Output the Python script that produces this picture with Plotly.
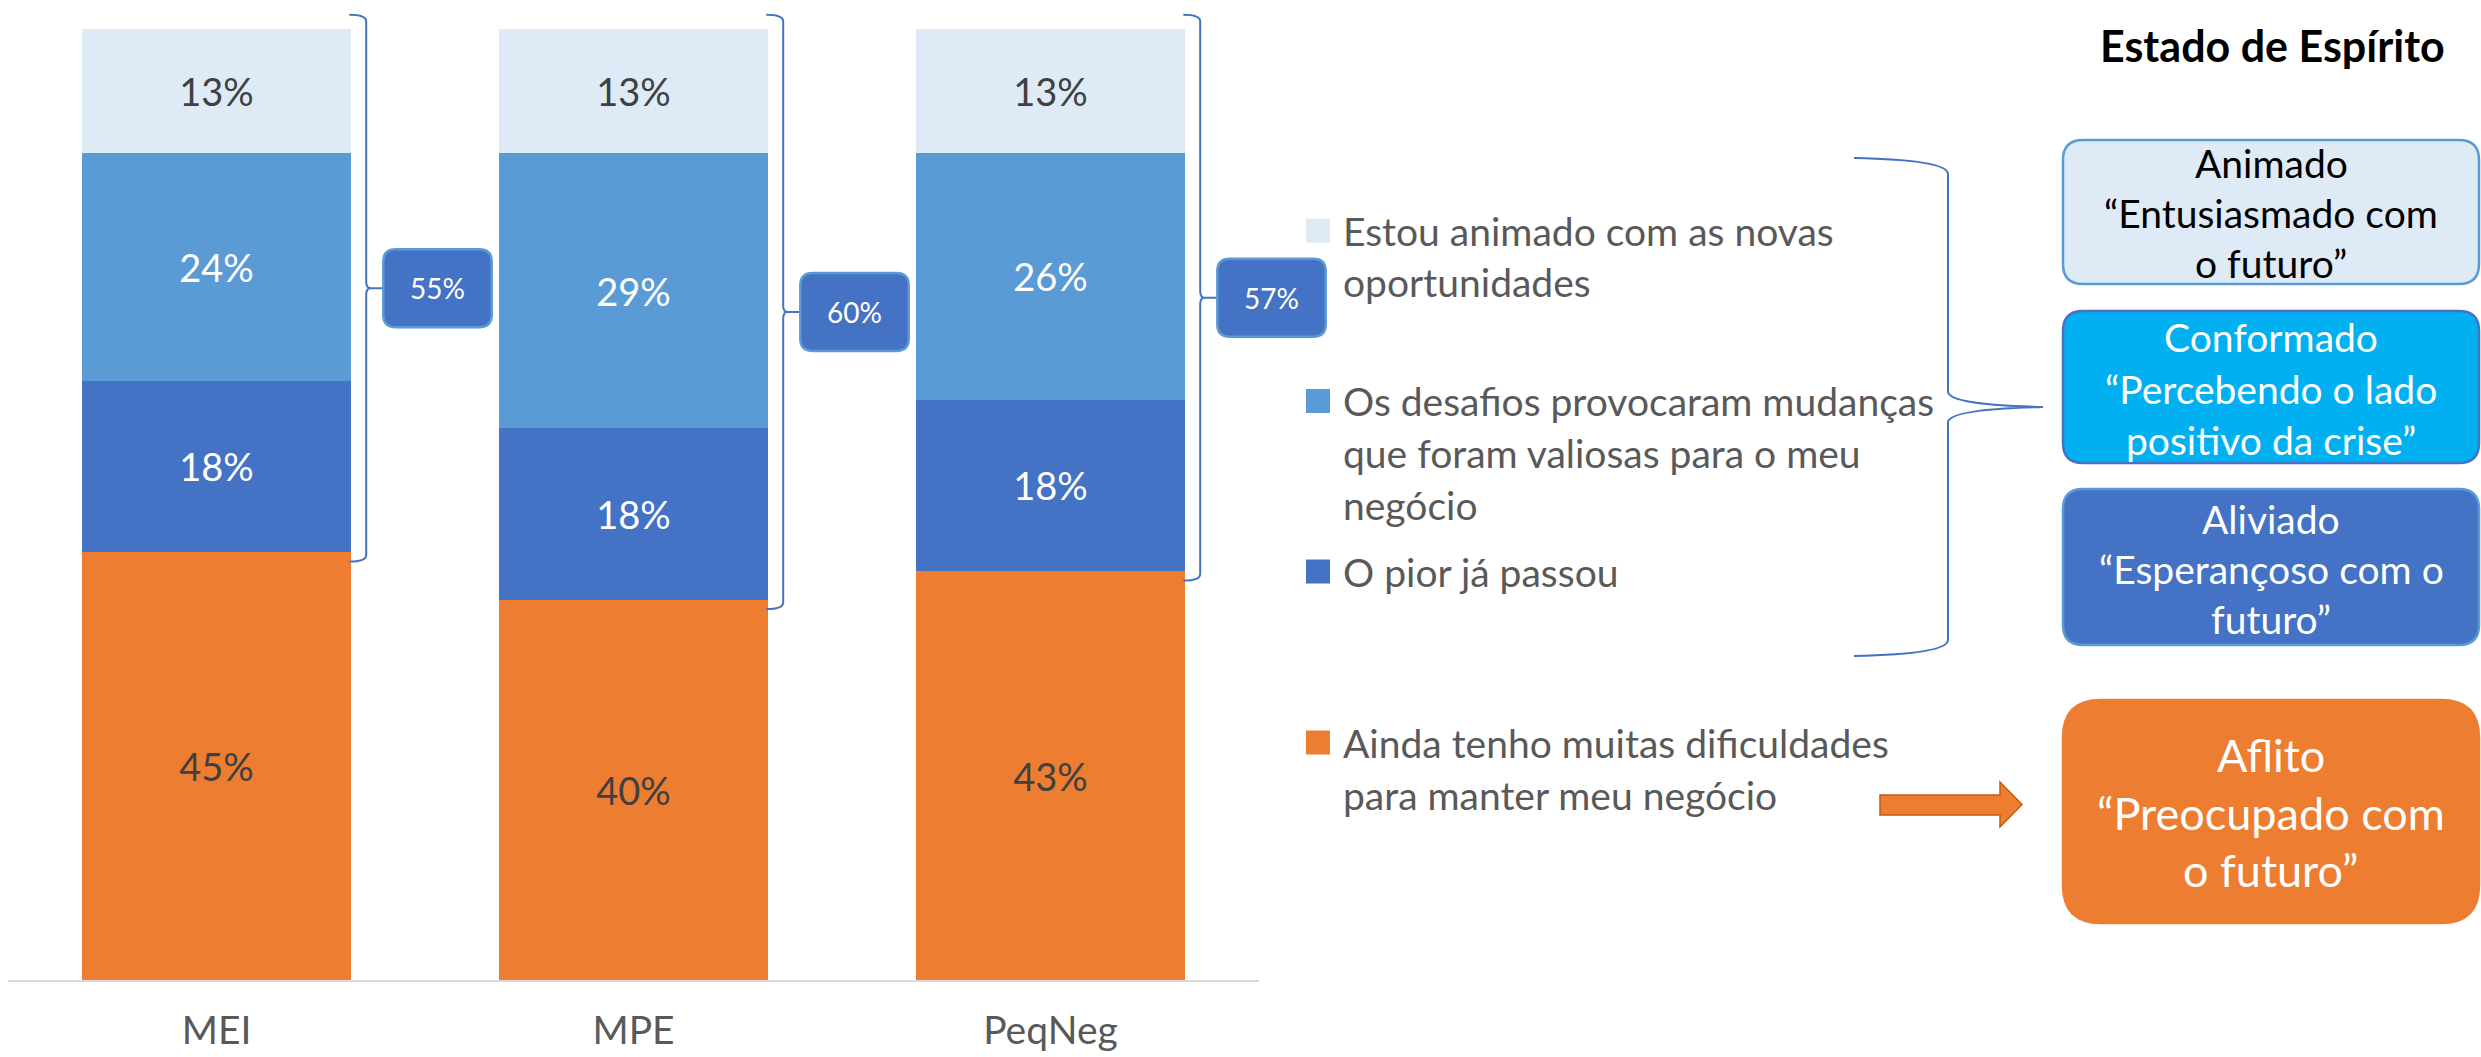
import plotly.graph_objects as go

W, H = 2481, 1057

# ---------------- data ----------------
categories = ["MEI", "MPE", "PeqNeg"]
animado = [13, 13, 13]        # Estou animado com as novas oportunidades
desafios = [24, 29, 26]       # Os desafios provocaram mudanças ...
pior_passou = [18, 18, 18]    # O pior já passou
dificuldades = [45, 40, 43]   # Ainda tenho muitas dificuldades ...

legend_items = [
    ["Estou animado com as novas", "oportunidades"],
    ["Os desafios provocaram mudanças", "que foram valiosas para o meu", "negócio"],
    ["O pior já passou"],
    ["Ainda tenho muitas dificuldades", "para manter meu negócio"],
]
title_text = "Estado de Espírito"
estado_boxes = [
    ["Animado", "“Entusiasmado com", "o futuro”"],
    ["Conformado", "“Percebendo o lado", "positivo da crise”"],
    ["Aliviado", "“Esperançoso com o", "futuro”"],
    ["Aflito", "“Preocupado com", "o futuro”"],
]

C_LIGHT = "#DEEBF7"
C_MID = "#5B9BD5"
C_DARK = "#4472C4"
C_ORANGE = "#ED7D31"
C_CYAN = "#00B0F0"
TXT_GRAY = "#595959"
FONT = "Lato"

xs = list(range(len(categories)))
X_RANGE = [-0.5, len(categories) - 0.5]
Y_RANGE = [0, 100]

fig = go.Figure()
series = [
    (dificuldades, C_ORANGE, "#404040", " ".join(legend_items[3])),
    (pior_passou, C_DARK, "white", " ".join(legend_items[2])),
    (desafios, C_MID, "white", " ".join(legend_items[1])),
    (animado, C_LIGHT, "#404040", " ".join(legend_items[0])),
]
for vals, col, tcol, name in series:
    fig.add_trace(go.Bar(
        x=xs, y=vals, name=name, marker=dict(color=col, line=dict(width=0)),
        texttemplate="%{y}%", textposition="inside", insidetextanchor="middle",
        textangle=0, textfont=dict(family=FONT, size=38, color=tcol),
        hovertemplate="%{y}%<extra></extra>",
    ))


def px(x):
    return x / W


def py(y):
    return 1 - y / H


def xd(v):  # data x -> fraction of x-axis domain
    return (v - X_RANGE[0]) / (X_RANGE[1] - X_RANGE[0])


def yd(v):  # data y -> fraction of y-axis domain
    return (v - Y_RANGE[0]) / (Y_RANGE[1] - Y_RANGE[0])


def rrect(x0, y0, x1, y1, rx, ry):
    return (f"M{x0+rx},{y0} L{x1-rx},{y0} Q{x1},{y0} {x1},{y0+ry} "
            f"L{x1},{y1-ry} Q{x1},{y1} {x1-rx},{y1} L{x0+rx},{y1} "
            f"Q{x0},{y1} {x0},{y1-ry} L{x0},{y0+ry} Q{x0},{y0} {x0+rx},{y0} Z")


shapes = []
annotations = []

# ---- braces + totals next to each bar (positions from data, in axis-domain units) ----
half = (1 - 0.355) / 2
for i in xs:
    total = animado[i] + desafios[i] + pior_passou[i]
    top = yd(101.5)
    bot = yd(dificuldades[i] - 1.0)
    mid = (top + bot) / 2
    x0 = xd(i + half - 0.004)
    xb = xd(i + 0.359)
    xt = xd(i + 0.40)
    d = yd(0.7)
    e = xd(0.01) - xd(0)
    path = (f"M{x0},{top} Q{xb},{top} {xb},{top-d} L{xb},{mid+d} "
            f"Q{xb},{mid} {xb+e},{mid} L{xt},{mid} "
            f"M{xb+e},{mid} Q{xb},{mid} {xb},{mid-d} L{xb},{bot+d} "
            f"Q{xb},{bot} {x0},{bot}")
    shapes.append(dict(type="path", xref="x domain", yref="y domain", path=path,
                       line=dict(color=C_DARK, width=2)))
    bx0, bx1 = xd(i + 0.40), xd(i + 0.66)
    bh = yd(4.1)
    shapes.append(dict(type="path", xref="x domain", yref="y domain",
                       path=rrect(bx0, mid - bh, bx1, mid + bh, xd(0.03) - xd(0), yd(1.3)),
                       fillcolor=C_DARK, line=dict(color=C_MID, width=2.5)))
    annotations.append(dict(x=(bx0 + bx1) / 2, y=mid, xref="x domain", yref="y domain",
                            text=f"{total}%", showarrow=False,
                            font=dict(family=FONT, size=28, color="white"),
                            xanchor="center", yanchor="middle"))

# ---- custom legend ----
leg_colors = [C_LIGHT, C_MID, C_DARK, C_ORANGE]
leg_first_y = [230.5, 401, 571.5, 742.5]
line_gap = 52
for item, col, y0 in zip(legend_items, leg_colors, leg_first_y):
    shapes.append(dict(type="rect", xref="paper", yref="paper",
                       x0=px(1306), x1=px(1330), y0=py(y0 + 12), y1=py(y0 - 12),
                       fillcolor=col, line=dict(width=0)))
    for k, line in enumerate(item):
        annotations.append(dict(x=px(1341), y=py(y0 + k * line_gap), xref="paper", yref="paper",
                                text=line, showarrow=False, xanchor="left", yanchor="middle",
                                font=dict(family=FONT, size=39, color=TXT_GRAY)))

# ---- big brace ----
pts = lambda x, y: f"{px(x)},{py(y)}"
brace = (f"M{pts(1854,158)} Q{pts(1948,160)} {pts(1948,174)} L{pts(1948,392)} "
         f"Q{pts(1950,405)} {pts(2043,407)} Q{pts(1950,409)} {pts(1948,422)} "
         f"L{pts(1948,640)} Q{pts(1948,654)} {pts(1854,656)}")
shapes.append(dict(type="path", xref="paper", yref="paper", path=brace,
                   line=dict(color=C_DARK, width=2)))

# ---- arrow ----
arrow = (f"M{pts(1880,795)} L{pts(2000,795)} L{pts(2000,782)} L{pts(2022,804.5)} "
         f"L{pts(2000,827)} L{pts(2000,815)} L{pts(1880,815)} Z")
shapes.append(dict(type="path", xref="paper", yref="paper", path=arrow,
                   fillcolor=C_ORANGE, line=dict(color="#C55A11", width=1.5)))

# ---- title ----
annotations.append(dict(x=px(2272), y=py(46), xref="paper", yref="paper", text=f"<b>{title_text}</b>",
                        showarrow=False, xanchor="center", yanchor="middle",
                        font=dict(family=FONT, size=43, color="black")))

# ---- state boxes ----
box_geo = [  # (top, bottom, radius, fill, border, text color, font size, line centres)
    (140, 284, 20, C_LIGHT, C_MID, "black", 39, [163, 213, 262.5]),
    (311, 463, 20, C_CYAN, C_DARK, "white", 39, [337, 389, 440]),
    (489, 645, 20, C_DARK, C_MID, "white", 39, [518.5, 568.5, 618.5]),
    (700, 923, 38, C_ORANGE, C_ORANGE, "white", 45, [755, 813, 870]),
]
bx_l, bx_r = 2063, 2479
for lines, (t, b, r, fill, border, tc, fs, ys) in zip(estado_boxes, box_geo):
    shapes.append(dict(type="path", xref="paper", yref="paper",
                       path=rrect(px(bx_l), py(b), px(bx_r), py(t), r / W, r / H),
                       fillcolor=fill, line=dict(color=border, width=2.5)))
    for line, yy in zip(lines, ys):
        annotations.append(dict(x=px((bx_l + bx_r) / 2), y=py(yy), xref="paper", yref="paper",
                                text=line, showarrow=False, xanchor="center", yanchor="middle",
                                font=dict(family=FONT, size=fs, color=tc)))

fig.update_layout(
    width=W, height=H, margin=dict(l=0, r=0, t=0, b=0),
    paper_bgcolor="white", plot_bgcolor="white",
    barmode="stack", bargap=0.355, showlegend=False,
    font=dict(family=FONT), shapes=shapes, annotations=annotations,
)
fig.update_xaxes(domain=[8 / W, 1259 / W], range=X_RANGE, tickvals=xs, ticktext=categories,
                 showline=True, linecolor="#D9D9D9", linewidth=2, showgrid=False, zeroline=False,
                 ticks="", tickfont=dict(family=FONT, size=39, color=TXT_GRAY), ticklabelstandoff=15)
fig.update_yaxes(domain=[1 - 980 / H, 1 - 29 / H], range=Y_RANGE, visible=False)

fig.write_html("out.html", config={"displayModeBar": False},
               post_script="document.body.style.margin='0';document.body.style.overflow='hidden';")
